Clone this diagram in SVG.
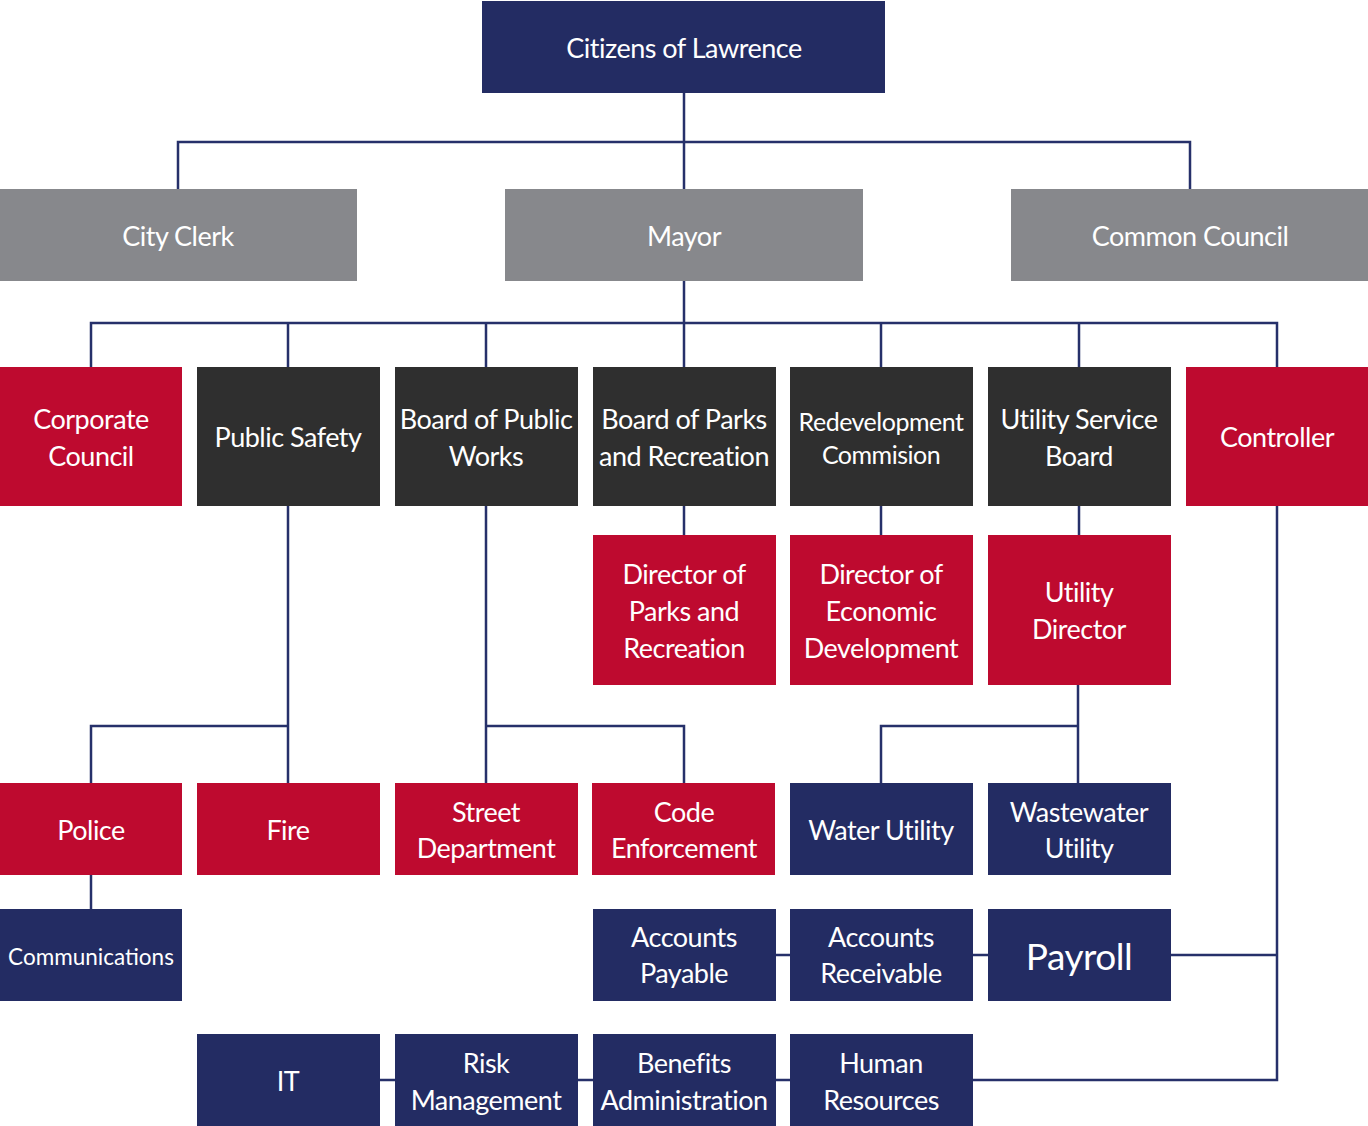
<svg xmlns="http://www.w3.org/2000/svg" width="1368" height="1126" viewBox="0 0 1368 1126">
<style>
.n{fill:#232c63}.g{fill:#87888c}.d{fill:#2f2f2f}.r{fill:#be0a2f}
text{font-family:Lato,"Open Sans",sans-serif;fill:#fff;text-anchor:middle;font-size:27px;letter-spacing:-0.5px}
.c{fill:none;stroke:#26306a;stroke-width:2.5}
</style>
<rect width="1368" height="1126" fill="#fff"/>
<g id="connectors" class="c">
<path d="M684 93V189M178 189V142H1190V189"/>
<path d="M684 281V367M91 367V323H1277V367M288 323V367M486 323V367M881 323V367M1079 323V367"/>
<path d="M684 506V535M881 506V535M1079 506V535"/>
<path d="M288 506V783M91 783V726H288"/>
<path d="M486 506V783M486 726H684V783"/>
<path d="M1078 685V783M881 783V726H1078"/>
<path d="M91 875V909"/>
<path d="M1277 506V1080H380M776 955H1277"/>
</g>
<g id="citizens"><rect class="n" x="482" y="1" width="403" height="92"/><text x="684" y="58">Citizens of Lawrence</text></g>
<g id="city-clerk"><rect class="g" x="0" y="189" width="357" height="92"/><text x="178" y="246">City Clerk</text></g>
<g id="mayor"><rect class="g" x="505" y="189" width="358" height="92"/><text x="684" y="246">Mayor</text></g>
<g id="common-council"><rect class="g" x="1011" y="189" width="357" height="92"/><text x="1190" y="246">Common Council</text></g>
<g id="corporate-council"><rect class="r" x="0" y="367" width="182" height="139"/><text x="91" y="429">Corporate</text><text x="91" y="466">Council</text></g>
<g id="public-safety"><rect class="d" x="197" y="367" width="183" height="139"/><text x="288" y="447">Public Safety</text></g>
<g id="board-public-works"><rect class="d" x="395" y="367" width="183" height="139"/><text x="486" y="429">Board of Public</text><text x="486" y="466">Works</text></g>
<g id="board-parks"><rect class="d" x="593" y="367" width="183" height="139"/><text x="684" y="429">Board of Parks</text><text x="684" y="466">and Recreation</text></g>
<g id="redevelopment"><rect class="d" x="790" y="367" width="183" height="139"/><text x="881" y="431" style="font-size:25px">Redevelopment</text><text x="881" y="464" style="font-size:25px">Commision</text></g>
<g id="utility-service-board"><rect class="d" x="988" y="367" width="183" height="139"/><text x="1079" y="429">Utility Service</text><text x="1079" y="466">Board</text></g>
<g id="controller"><rect class="r" x="1186" y="367" width="182" height="139"/><text x="1277" y="447">Controller</text></g>
<g id="director-parks"><rect class="r" x="593" y="535" width="183" height="150"/><text x="684" y="584">Director of</text><text x="684" y="621">Parks and</text><text x="684" y="658">Recreation</text></g>
<g id="director-econ"><rect class="r" x="790" y="535" width="183" height="150"/><text x="881" y="584">Director of</text><text x="881" y="621">Economic</text><text x="881" y="658">Development</text></g>
<g id="utility-director"><rect class="r" x="988" y="535" width="183" height="150"/><text x="1079" y="602">Utility</text><text x="1079" y="639">Director</text></g>
<g id="police"><rect class="r" x="0" y="783" width="182" height="92"/><text x="91" y="840">Police</text></g>
<g id="fire"><rect class="r" x="197" y="783" width="183" height="92"/><text x="288" y="840">Fire</text></g>
<g id="street"><rect class="r" x="395" y="783" width="183" height="92"/><text x="486" y="822">Street</text><text x="486" y="858">Department</text></g>
<g id="code"><rect class="r" x="592" y="783" width="183" height="92"/><text x="684" y="822">Code</text><text x="684" y="858">Enforcement</text></g>
<g id="water"><rect class="n" x="790" y="783" width="183" height="92"/><text x="881" y="840">Water Utility</text></g>
<g id="wastewater"><rect class="n" x="988" y="783" width="183" height="92"/><text x="1079" y="822">Wastewater</text><text x="1079" y="858">Utility</text></g>
<g id="communications"><rect class="n" x="0" y="909" width="182" height="92"/><text x="91" y="965" style="font-size:22.5px;letter-spacing:0">Communications</text></g>
<g id="accounts-payable"><rect class="n" x="593" y="909" width="183" height="92"/><text x="684" y="947">Accounts</text><text x="684" y="983">Payable</text></g>
<g id="accounts-receivable"><rect class="n" x="790" y="909" width="183" height="92"/><text x="881" y="947">Accounts</text><text x="881" y="983">Receivable</text></g>
<g id="payroll"><rect class="n" x="988" y="909" width="183" height="92"/><text x="1079" y="970" style="font-size:37px">Payroll</text></g>
<g id="it"><rect class="n" x="197" y="1034" width="183" height="92"/><text x="288" y="1091">IT</text></g>
<g id="risk"><rect class="n" x="395" y="1034" width="183" height="92"/><text x="486" y="1073">Risk</text><text x="486" y="1110">Management</text></g>
<g id="benefits"><rect class="n" x="593" y="1034" width="183" height="92"/><text x="684" y="1073">Benefits</text><text x="684" y="1110">Administration</text></g>
<g id="hr"><rect class="n" x="790" y="1034" width="183" height="92"/><text x="881" y="1073">Human</text><text x="881" y="1110">Resources</text></g>
</svg>
